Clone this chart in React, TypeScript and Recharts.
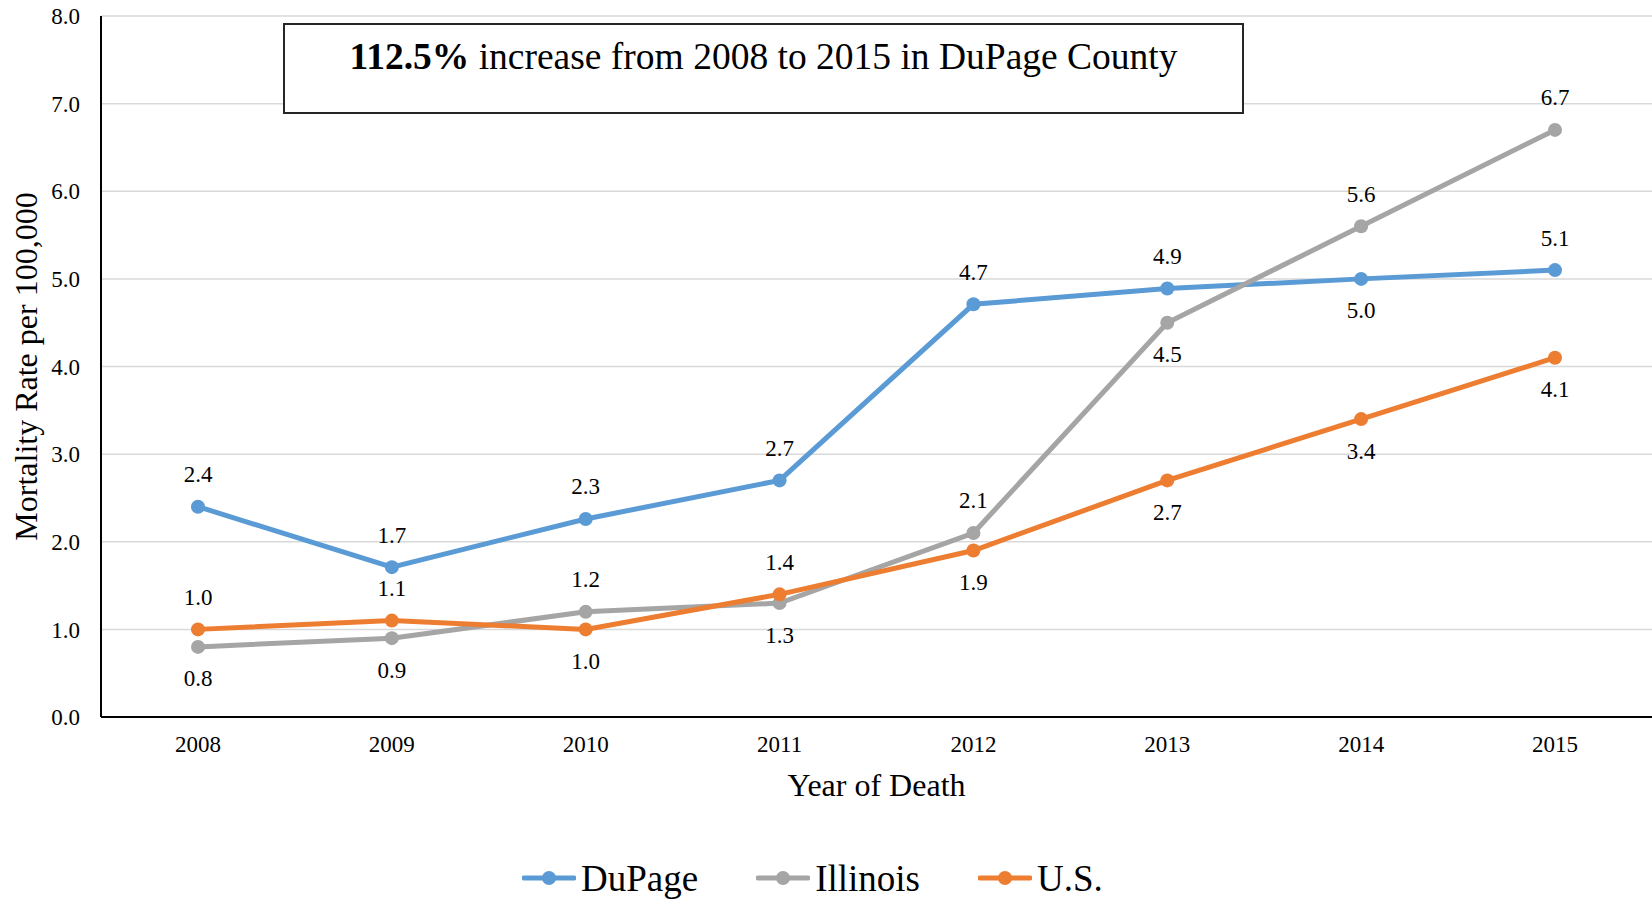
import React from "react";
import {
  LineChart,
  Line,
  XAxis,
  YAxis,
  CartesianGrid,
  Legend,
  LabelList,
} from "recharts";

const years = ["2008", "2009", "2010", "2011", "2012", "2013", "2014", "2015"];
const dupage = [2.4, 1.71, 2.26, 2.7, 4.71, 4.89, 5.0, 5.1];
const illinois = [0.8, 0.9, 1.2, 1.3, 2.1, 4.5, 5.6, 6.7];
const us = [1.0, 1.1, 1.0, 1.4, 1.9, 2.7, 3.4, 4.1];
const yTicks = [0, 1, 2, 3, 4, 5, 6, 7, 8];

// where each data label sits relative to its point
const dupageSide = ["up", "up", "up", "up", "up", "up", "down", "up"];
const illinoisSide = ["down", "down", "up", "down", "up", "down", "up", "up"];
const usSide = ["up", "up", "down", "up", "down", "down", "down", "down"];

const FONT = '"Liberation Serif", "Times New Roman", serif';
const BLUE = "#5b9bd5";
const GRAY = "#a5a5a5";
const ORANGE = "#ed7d31";

const data = years.map((year, i) => ({
  year,
  dupage: dupage[i],
  illinois: illinois[i],
  us: us[i],
}));

const series = [
  { key: "dupage", name: "DuPage", color: BLUE, side: dupageSide },
  { key: "illinois", name: "Illinois", color: GRAY, side: illinoisSide },
  { key: "us", name: "U.S.", color: ORANGE, side: usSide },
];

function makeLabel(side: string[]) {
  return (props: any) => {
    const { x, y, value, index } = props;
    const dy = side[index] === "up" ? -32 : 32;
    return (
      <text
        x={x}
        y={y + dy}
        textAnchor="middle"
        dominantBaseline="central"
        fontFamily={FONT}
        fontSize={23}
        fill="#000"
      >
        {Number(value).toFixed(1)}
      </text>
    );
  };
}

function LegendContent() {
  return (
    <div
      style={{
        display: "flex",
        alignItems: "center",
        height: 44,
        paddingLeft: 522,
        fontFamily: FONT,
        fontSize: 37,
        color: "#000",
      }}
    >
      {series.map((s, i) => (
        <div
          key={s.key}
          style={{ display: "flex", alignItems: "center", marginLeft: i === 0 ? 0 : 58 }}
        >
          <svg width={54} height={16} style={{ marginRight: 5 }}>
            <line x1={2} y1={8} x2={52} y2={8} stroke={s.color} strokeWidth={5} strokeLinecap="round" />
            <circle cx={27} cy={8} r={7} fill={s.color} />
          </svg>
          <span>{s.name}</span>
        </div>
      ))}
    </div>
  );
}

export default function App() {
  return (
    <div style={{ position: "absolute", left: 0, top: 0, width: 1652, height: 900, background: "#fff" }}>
      <LineChart
        width={1652}
        height={900}
        data={data}
        margin={{ top: 16, right: 0, left: 0, bottom: 0 }}
      >
        <CartesianGrid vertical={false} stroke="#d9d9d9" strokeWidth={1.5} />
        <XAxis
          dataKey="year"
          height={139}
          padding={{ left: 97, right: 97 }}
          axisLine={{ stroke: "#000", strokeWidth: 2 }}
          tickLine={false}
          tickMargin={13}
          tick={{ fontFamily: FONT, fontSize: 23, fill: "#000" }}
          label={{
            content: (p: any) => {
              const vb = p.viewBox;
              return (
                <text
                  x={vb.x + vb.width / 2}
                  y={785}
                  textAnchor="middle"
                  dominantBaseline="central"
                  fontFamily={FONT}
                  fontSize={32}
                  fill="#000"
                >
                  Year of Death
                </text>
              );
            },
          }}
        />
        <YAxis
          width={101}
          domain={[0, 8]}
          ticks={yTicks}
          interval={0}
          axisLine={{ stroke: "#000", strokeWidth: 2 }}
          tickLine={false}
          tickMargin={15}
          tickFormatter={(v: number) => v.toFixed(1)}
          tick={{ fontFamily: FONT, fontSize: 23, fill: "#000" }}
          label={{
            content: (p: any) => {
              const vb = p.viewBox;
              const cy = vb.y + vb.height / 2;
              return (
                <text
                  x={26}
                  y={cy}
                  transform={`rotate(-90 26 ${cy})`}
                  textAnchor="middle"
                  dominantBaseline="central"
                  fontFamily={FONT}
                  fontSize={32}
                  fill="#000"
                >
                  Mortality Rate per 100,000
                </text>
              );
            },
          }}
        />
        <Legend
          verticalAlign="bottom"
          content={<LegendContent />}
          wrapperStyle={{ left: 0, width: 1652, bottom: 0 }}
        />
        {series.map((s) => (
          <Line
            key={s.key}
            type="linear"
            dataKey={s.key}
            name={s.name}
            stroke={s.color}
            strokeWidth={5}
            dot={{ r: 7, fill: s.color, stroke: "none" }}
            activeDot={false}
            isAnimationActive={false}
          >
            <LabelList dataKey={s.key} content={makeLabel(s.side)} />
          </Line>
        ))}
      </LineChart>
      <div
        style={{
          position: "absolute",
          left: 283,
          top: 23,
          width: 961,
          height: 91,
          boxSizing: "border-box",
          border: "2px solid #262626",
          background: "#fff",
          textAlign: "center",
          fontFamily: FONT,
          fontSize: 37.5,
          lineHeight: "42px",
          paddingTop: 11,
          color: "#000",
        }}
      >
        <b>112.5%</b> increase from 2008 to 2015 in DuPage County
      </div>
    </div>
  );
}
